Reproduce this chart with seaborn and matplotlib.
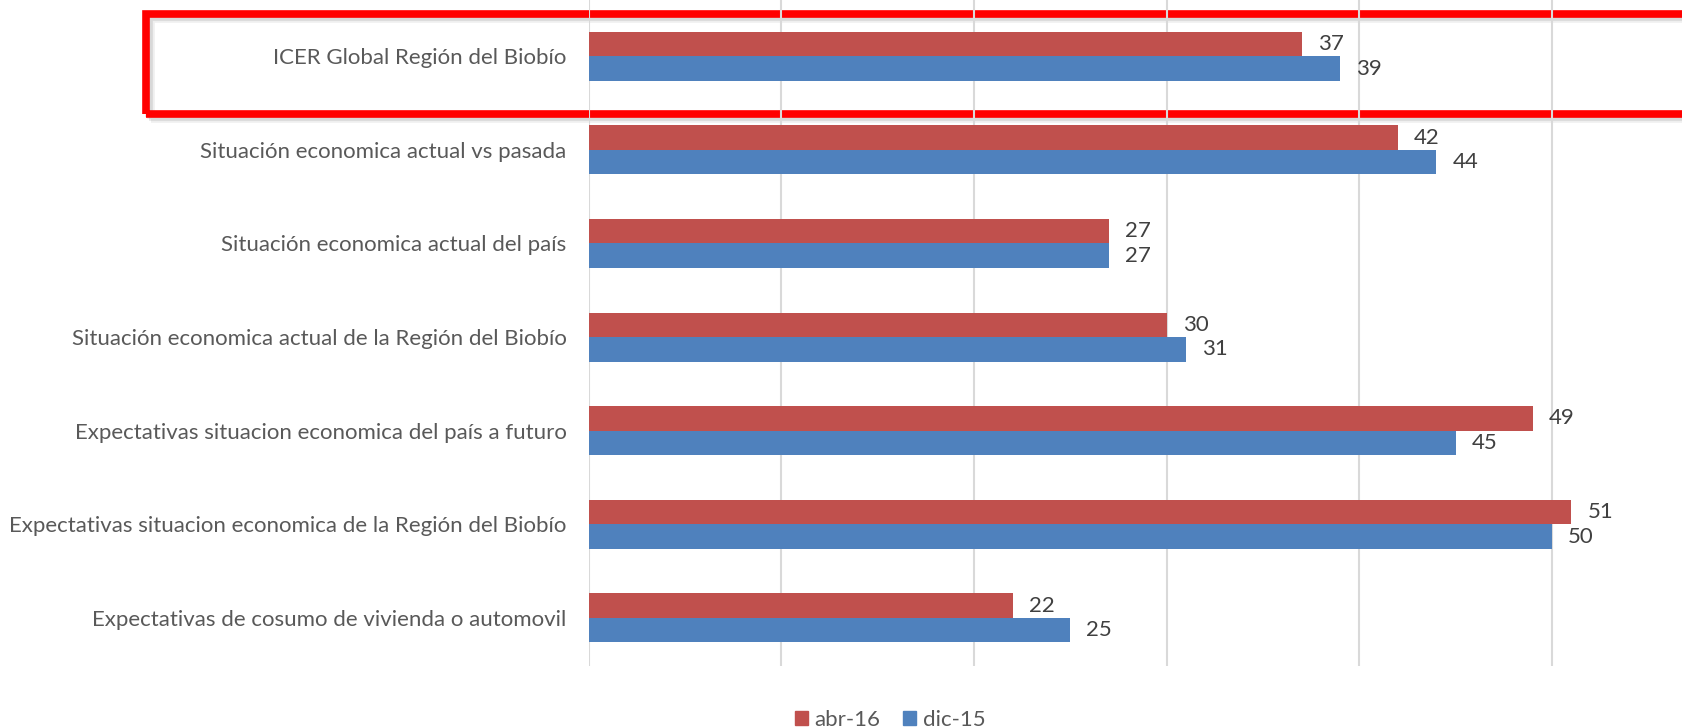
import numpy as np
import pandas as pd
import matplotlib.pyplot as plt
import matplotlib.patches as mpatches
import seaborn as sns

# data
categories = ['ICER Global Región del Biobío',
              'Situación economica actual vs pasada',
              'Situación economica actual del país',
              'Situación economica actual de la Región del Biobío',
              'Expectativas situacion economica del país a futuro',
              'Expectativas situacion economica de la Región del Biobío',
              'Expectativas de cosumo de vivienda o automovil']
abr16 = [37, 42, 27, 30, 49, 51, 22]
dic15 = [39, 44, 27, 31, 45, 50, 25]
series = ['abr-16', 'dic-15']
colors = ['#C0504D', '#4F81BD']

df = pd.DataFrame({'Categoria': categories * 2,
                   'Serie': [series[0]] * len(categories) + [series[1]] * len(categories),
                   'Valor': abr16 + dic15})

sns.set_style('white')
plt.rcParams['font.family'] = ['Lato', 'DejaVu Sans']

W, H = 1682, 727
fig = plt.figure(figsize=(W / 100, H / 100), dpi=100)
ax = fig.add_axes([588.6 / W, (H - 666) / H, (W - 588.6) / W, 666 / H])
ax.patch.set_alpha(0)

sns.barplot(data=df, y='Categoria', x='Valor', hue='Serie', order=categories,
            hue_order=series, palette=colors, orient='h', width=0.524,
            saturation=1, ax=ax, legend=False, edgecolor='none')

for cont in ax.containers:
    ax.bar_label(cont, padding=11.5, fontsize=16, color='#404040')

ax.set_xlim(0, 56.74)
ax.set_ylim(6.514, -0.6015)
ax.set_xticks(np.arange(0, 60, 10))
ax.set_xticklabels([])
ax.grid(axis='x', color='#D9D9D9', linewidth=1.5)
ax.set_axisbelow(True)
for s in ax.spines.values():
    s.set_visible(False)
ax.tick_params(axis='y', length=0, pad=16, labelsize=16, labelcolor='#595959')
ax.tick_params(axis='x', length=0)
ax.set_xlabel('')
ax.set_ylabel('')

handles = [mpatches.Patch(color=c, label=s) for c, s in zip(colors, series)]
fig.legend(handles=handles, loc='center', bbox_to_anchor=(890 / W, 0.01),
           ncol=2, frameon=False, fontsize=16, labelcolor='#595959',
           handlelength=0.6, handleheight=0.6, handletextpad=0.3, columnspacing=1.0)

# highlight box with shadow
x0, y0, y1 = 146 / W, 1 - 113.5 / H, 1 - 13.5 / H
for k, a in [(5, 0.12), (3, 0.2)]:
    fig.patches.append(mpatches.Rectangle((x0 + k / W, y0 - k / H), 1.1, y1 - y0,
                       transform=fig.transFigure, fill=False, edgecolor='gray',
                       linewidth=5.5, alpha=a, zorder=-2))
fig.patches.append(mpatches.Rectangle((x0, y0), 1.1, y1 - y0, transform=fig.transFigure,
                   fill=False, edgecolor='#FF0000', linewidth=5.5, zorder=-1))

fig.savefig('out.png', dpi=100)
